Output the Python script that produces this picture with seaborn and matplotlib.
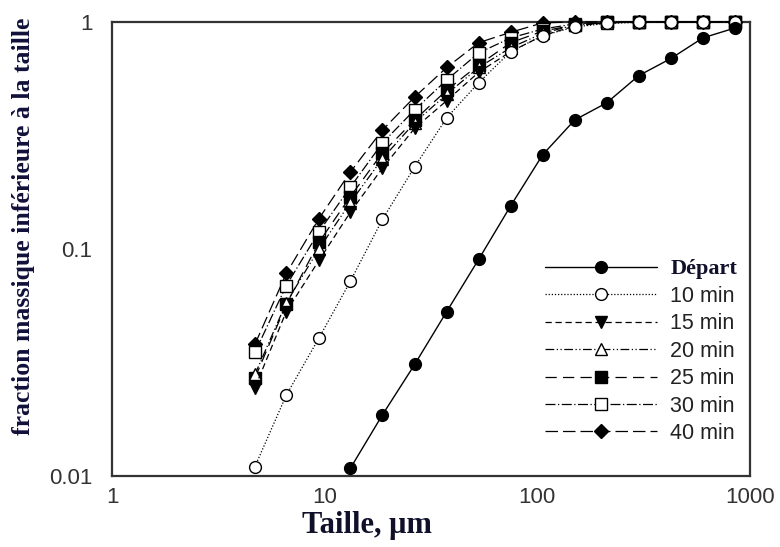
import pandas as pd
import matplotlib
matplotlib.use("Agg")
import matplotlib.pyplot as plt
import seaborn as sns
from matplotlib.ticker import LogLocator, FixedLocator, FixedFormatter, NullFormatter

# particle sizes (um)
taille = [4.7, 6.6, 9.4, 13.2, 18.7, 26.5, 37.5, 53, 75, 106, 150, 212, 300, 425, 600, 850]
taille_depart = [13.2, 18.7, 26.5, 37.5, 53, 75, 106, 150, 212, 300, 425, 600, 850]

# cumulative mass fraction below size
depart = [0.0108, 0.0186, 0.031, 0.053, 0.090, 0.155, 0.26, 0.37, 0.44, 0.58, 0.69, 0.85, 0.94]
min10 = [0.011, 0.0227, 0.0405, 0.072, 0.135, 0.23, 0.378, 0.54, 0.74, 0.87, 0.95, 0.985, 0.995, 1.0, 1.0, 1.0]
min15 = [0.0245, 0.053, 0.089, 0.145, 0.227, 0.34, 0.45, 0.60, 0.74, 0.87, 0.96, 0.99, 1.0, 1.0, 1.0, 1.0]
min20 = [0.028, 0.058, 0.10, 0.16, 0.25, 0.36, 0.48, 0.63, 0.77, 0.89, 0.97, 0.99, 1.0, 1.0, 1.0, 1.0]
min25 = [0.027, 0.057, 0.107, 0.17, 0.265, 0.37, 0.50, 0.646, 0.81, 0.91, 0.97, 0.995, 1.0, 1.0, 1.0, 1.0]
min30 = [0.035, 0.069, 0.119, 0.187, 0.293, 0.41, 0.555, 0.73, 0.85, 0.93, 0.98, 1.0, 1.0, 1.0, 1.0, 1.0]
min40 = [0.038, 0.078, 0.136, 0.218, 0.334, 0.467, 0.63, 0.81, 0.90, 0.99, 1.0, 1.0, 1.0, 1.0, 1.0, 1.0]

labels = ["Départ", "10 min", "15 min", "20 min", "25 min", "30 min", "40 min"]
xticks = [1, 10, 100, 1000]
xtick_labels = ["1", "10", "100", "1000"]
yticks = [0.01, 0.1, 1]
ytick_labels = ["0.01", "0.1", "1"]

sns.set_style("white")
plt.rcParams["font.family"] = ["Liberation Sans", "DejaVu Sans"]
serif = ["Liberation Serif", "DejaVu Serif"]

fig = plt.figure(figsize=(7.8, 5.47), dpi=100)
ax = fig.add_axes([0.1436, 0.1298, 0.8179, 0.8302])

# line style, marker, filled? for each series
styles = [
    ("-", "o", True),
    ((0, (1, 1.5)), "o", False),
    ((0, (5, 3)), "v", True),
    ((0, (7, 2, 1, 2, 1, 2)), "^", False),
    ((0, (9, 5)), "s", True),
    ((0, (8, 2, 1, 2)), "s", False),
    ((0, (10, 4)), "D", True),
]
series = [depart, min10, min15, min20, min25, min30, min40]

for i, (yv, lab, (ls, mk, filled)) in enumerate(zip(series, labels, styles)):
    xv = taille_depart if i == 0 else taille
    df = pd.DataFrame({"taille": xv, "fraction": yv})
    sns.lineplot(data=df, x="taille", y="fraction", ax=ax, color="black",
                 linestyle=ls, linewidth=1.0 if i == 0 else 0.9,
                 marker=mk, markersize=7.5 if mk == "D" else 8.5,
                 markerfacecolor="black" if filled else "white",
                 markeredgecolor="black", markeredgewidth=1.0,
                 label=lab, zorder=10 - i if i else 11, clip_on=False)

ax.set_xscale("log")
ax.set_yscale("log")
ax.set_xlim(1, 1000)
ax.set_ylim(0.01, 1)

ax.xaxis.set_major_locator(FixedLocator(xticks))
ax.xaxis.set_major_formatter(FixedFormatter(xtick_labels))
ax.yaxis.set_major_locator(FixedLocator(yticks))
ax.yaxis.set_major_formatter(FixedFormatter(ytick_labels))
ax.xaxis.set_minor_locator(LogLocator(base=10, subs=range(2, 10)))
ax.yaxis.set_minor_locator(LogLocator(base=10, subs=range(2, 10)))
ax.xaxis.set_minor_formatter(NullFormatter())
ax.yaxis.set_minor_formatter(NullFormatter())

ax.tick_params(which="both", direction="in", colors="#333333", labelsize=16,
               top=False, right=False)
ax.tick_params(which="major", length=10, width=1.0, pad=8)
ax.tick_params(which="minor", length=6, width=1.0)
ax.tick_params(axis="y", which="major", length=0, pad=14)
for sp in ax.spines.values():
    sp.set_color("#333333")
    sp.set_linewidth(1.6)

ax.set_xlabel("Taille, μm", family=serif, fontweight="bold", fontsize=22,
              color="#10102a")
ax.xaxis.set_label_coords(0.40, -0.078)
ax.set_ylabel("fraction massique inférieure à la taille", family=serif,
              fontweight="bold", fontsize=18.5, color="#10103a")
ax.yaxis.set_label_coords(-0.121, 0.55)

leg = ax.legend(loc="lower right", bbox_to_anchor=(1.0, 0.042), frameon=False,
                fontsize=15.5, handlelength=5.2, handletextpad=0.6,
                labelspacing=0.3, borderaxespad=0.2)
for t in leg.get_texts():
    t.set_color("#222222")
leg.get_texts()[0].set_family(serif)
leg.get_texts()[0].set_fontweight("bold")
leg.get_texts()[0].set_fontsize(16)
leg.get_texts()[0].set_color("#10102a")

fig.savefig("out.png", dpi=100)
